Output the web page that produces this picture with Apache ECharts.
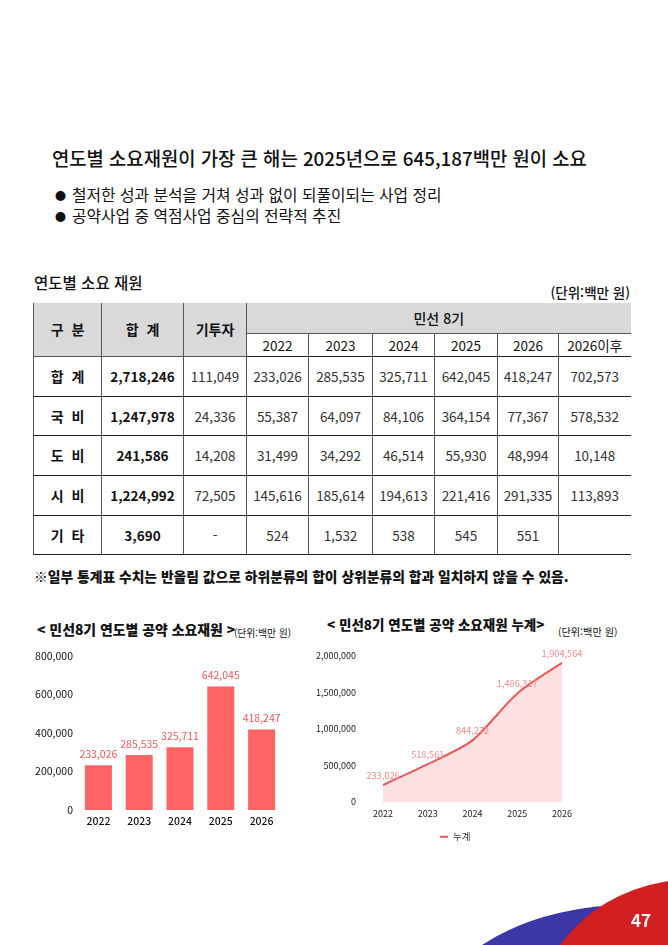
<!DOCTYPE html>
<html lang="ko">
<head>
<meta charset="utf-8">
<script src="https://cdn.jsdelivr.net/npm/echarts@6/dist/echarts.min.js"></script>
<style>
  html, body { margin:0; padding:0; background:#fff; }
  body { width:668px; height:945px; position:relative; overflow:hidden;
         font-family:'Noto Sans CJK KR','Noto Sans',sans-serif; color:#111; }
  .t { position:absolute; white-space:nowrap; }
  table { position:absolute; left:33px; top:303px; border-collapse:collapse; table-layout:fixed; }
  td { padding:0; text-align:center; vertical-align:middle; font-size:13.5px; color:#333;
       border:1px solid #555; white-space:nowrap; }
  td.last { border-right:none; }
  tr.h1 td, tr.h2 td { color:#111; }
  td.hd { background:#d9d9d9; font-weight:bold; font-size:14px; }
  tr.h1 td { border-top:none; }
  tr.h2 td { border-bottom:1.5px solid #222; }
  tr.body td { border-bottom:1px solid #222; }
  tr.body td.lab { font-weight:bold; color:#111; font-size:14px; }
  tr.body td.sum { font-weight:bold; color:#111; }
  tr.lastrow td { border-bottom:1.5px solid #222; }
  #c1 { position:absolute; left:0; top:640px; width:300px; height:200px; }
  #c2 { position:absolute; left:300px; top:640px; width:368px; height:205px; }
</style>
</head>
<body>
<div class="t" style="left:52px;top:144px;font-size:18.8px;line-height:27px;font-weight:500;">연도별 소요재원이 가장 큰 해는 2025년으로 645,187백만 원이 소요</div>
<div class="t" style="left:55px;top:185px;font-size:11px;line-height:20px;">●</div>
<div class="t" style="left:72px;top:183px;font-size:15.8px;line-height:23px;">철저한 성과 분석을 거쳐 성과 없이 되풀이되는 사업 정리</div>
<div class="t" style="left:55px;top:206px;font-size:11px;line-height:20px;">●</div>
<div class="t" style="left:72px;top:204px;font-size:15.8px;line-height:23px;">공약사업 중 역점사업 중심의 전략적 추진</div>

<div class="t" style="left:34px;top:271px;font-size:15.5px;line-height:23px;font-weight:500;">연도별 소요 재원</div>
<div class="t" style="right:38px;top:282px;font-size:13.5px;line-height:21px;font-weight:500;">(단위:백만 원)</div>

<table id="tbl"></table>

<div class="t" style="left:34px;top:566px;font-size:13.8px;line-height:20px;font-weight:900;">※일부 통계표 수치는 반올림 값으로 하위분류의 합이 상위분류의 합과 일치하지 않을 수 있음.</div>

<div class="t" style="left:37px;top:619px;font-size:13.9px;line-height:21px;font-weight:900;">&lt; 민선8기 연도별 공약 소요재원 &gt;</div>
<div class="t" style="left:234px;top:625px;font-size:9.8px;line-height:16px;">(단위:백만 원)</div>
<div class="t" style="left:327px;top:614px;font-size:13.5px;line-height:21px;font-weight:900;">&lt; 민선8기 연도별 공약 소요재원 누계&gt;</div>
<div class="t" style="left:558px;top:624px;font-size:10.2px;line-height:16px;">(단위:백만 원)</div>

<div id="c1"></div>
<div id="c2"></div>

<svg style="position:absolute;left:0;top:0;" width="668" height="945">
  <path d="M 482 945 Q 535 910 615 905 L 668 905 L 668 945 Z" fill="#3b37a6"/>
  <path d="M 560 945 Q 598 893 668 881 L 668 945 Z" fill="#d21f22"/>
</svg>
<div class="t" style="left:631px;top:907px;font-size:17px;line-height:26px;font-weight:bold;color:#fff;">47</div>

<script>
// ---- data ----
var tableRowLabels = ['합 계', '국 비', '도 비', '시 비', '기 타'];
var tableTotals = ['2,718,246', '1,247,978', '241,586', '1,224,992', '3,690'];
var tableInvested = ['111,049', '24,336', '14,208', '72,505', '-'];
var tableYears = ['2022', '2023', '2024', '2025', '2026', '2026이후'];
var table2022 = ['233,026', '55,387', '31,499', '145,616', '524'];
var table2023 = ['285,535', '64,097', '34,292', '185,614', '1,532'];
var table2024 = ['325,711', '84,106', '46,514', '194,613', '538'];
var table2025 = ['642,045', '364,154', '55,930', '221,416', '545'];
var table2026 = ['418,247', '77,367', '48,994', '291,335', '551'];
var tableAfter = ['702,573', '578,532', '10,148', '113,893', ''];

var chartYears = ['2022', '2023', '2024', '2025', '2026'];
var annualValues = [233026, 285535, 325711, 642045, 418247];
var cumulativeValues = [233026, 518561, 844272, 1486317, 1904564];
var axis1Ticks = [0, 200000, 400000, 600000, 800000];
var axis2Ticks = [0, 500000, 1000000, 1500000, 2000000];

// ---- table ----
(function () {
  var colW = [68, 82, 63, 62, 64, 62, 63, 61, 72];
  var rowH = [40, 39, 40, 40, 39];
  var h = '<colgroup>' + colW.map(function (w) { return '<col style="width:' + w + 'px">'; }).join('') + '</colgroup>';
  h += '<tr class="h1" style="height:30px"><td class="hd" rowspan="2">구&nbsp;&nbsp;분</td><td class="hd" rowspan="2">합&nbsp;&nbsp;계</td><td class="hd" rowspan="2">기투자</td>' +
       '<td class="hd last" colspan="6" style="font-weight:500">민선 8기</td></tr>';
  h += '<tr class="h2" style="height:23px">' + tableYears.map(function (y, i) {
    return '<td' + (i === tableYears.length - 1 ? ' class="last"' : '') + '>' + y + '</td>';
  }).join('') + '</tr>';
  var cols = [table2022, table2023, table2024, table2025, table2026, tableAfter];
  for (var r = 0; r < tableRowLabels.length; r++) {
    h += '<tr class="body' + (r === tableRowLabels.length - 1 ? ' lastrow' : '') + '" style="height:' + rowH[r] + 'px">';
    h += '<td class="lab">' + tableRowLabels[r].replace(' ', '&nbsp;&nbsp;') + '</td>';
    h += '<td class="sum">' + tableTotals[r] + '</td>';
    h += '<td>' + tableInvested[r] + '</td>';
    for (var c = 0; c < cols.length; c++) {
      h += '<td' + (c === cols.length - 1 ? ' class="last"' : '') + '>' + cols[c][r] + '</td>';
    }
    h += '</tr>';
  }
  document.getElementById('tbl').innerHTML = h;
})();

// ---- charts ----
var FONT = "'Noto Sans CJK KR', 'Noto Sans', sans-serif";
function fmt(v) { return Number(v).toLocaleString('en-US'); }

var c1 = echarts.init(document.getElementById('c1'), null, { renderer: 'canvas' });
c1.setOption({
  animation: false,
  textStyle: { fontFamily: FONT },
  grid: { left: 78, top: 16, width: 204, height: 154, containLabel: false, outerBoundsMode: 'none' },
  xAxis: {
    type: 'category', data: chartYears,
    axisLine: { show: false }, axisTick: { show: false },
    axisLabel: { color: '#111', fontSize: 10.5, fontWeight: 500, margin: 6, fontFamily: FONT }
  },
  yAxis: {
    type: 'value', min: axis1Ticks[0], max: axis1Ticks[axis1Ticks.length - 1], interval: axis1Ticks[1] - axis1Ticks[0],
    axisLine: { show: false }, axisTick: { show: false }, splitLine: { show: false },
    axisLabel: { color: '#111', fontSize: 10.5, margin: 5, fontFamily: FONT, formatter: fmt }
  },
  series: [{
    type: 'bar', data: annualValues, barWidth: 27,
    itemStyle: { color: '#ff6464' },
    label: { show: true, position: 'top', distance: 6, color: '#e8585c', fontSize: 10.5, fontFamily: FONT,
             formatter: function (p) { return fmt(p.value); } }
  }]
});

var c2 = echarts.init(document.getElementById('c2'), null, { renderer: 'canvas' });
c2.setOption({
  animation: false,
  textStyle: { fontFamily: FONT },
  grid: { left: 83, top: 16, width: 179, height: 146, containLabel: false, outerBoundsMode: 'none' },
  legend: {
    data: ['누계'], left: 135, top: 187, icon: 'rect', itemWidth: 8, itemHeight: 2, itemGap: 4,
    itemStyle: { color: '#e85a5a' },
    textStyle: { fontSize: 9.5, color: '#333', fontFamily: FONT }
  },
  xAxis: {
    type: 'category', data: chartYears, boundaryGap: false,
    axisLine: { show: false }, axisTick: { show: false },
    axisLabel: { color: '#222', fontSize: 9, margin: 7, fontFamily: FONT }
  },
  yAxis: {
    type: 'value', min: axis2Ticks[0], max: axis2Ticks[axis2Ticks.length - 1], interval: axis2Ticks[1] - axis2Ticks[0],
    axisLine: { show: false }, axisTick: { show: false }, splitLine: { show: false },
    axisLabel: { color: '#222', fontSize: 9, margin: 27, fontFamily: FONT, formatter: fmt }
  },
  series: [{
    name: '누계', type: 'line', data: cumulativeValues, smooth: 0.25,
    symbol: 'circle', symbolSize: 0.1, showSymbol: true,
    lineStyle: { color: '#e85a5a', width: 2 },
    itemStyle: { color: '#e85a5a' },
    areaStyle: { color: '#fde0e0', opacity: 1 },
    label: { show: true, position: 'top', distance: 5, color: '#f08a8a', fontSize: 9.2, fontFamily: FONT,
             formatter: function (p) { return fmt(p.value); } }
  }]
});
</script>
</body>
</html>
